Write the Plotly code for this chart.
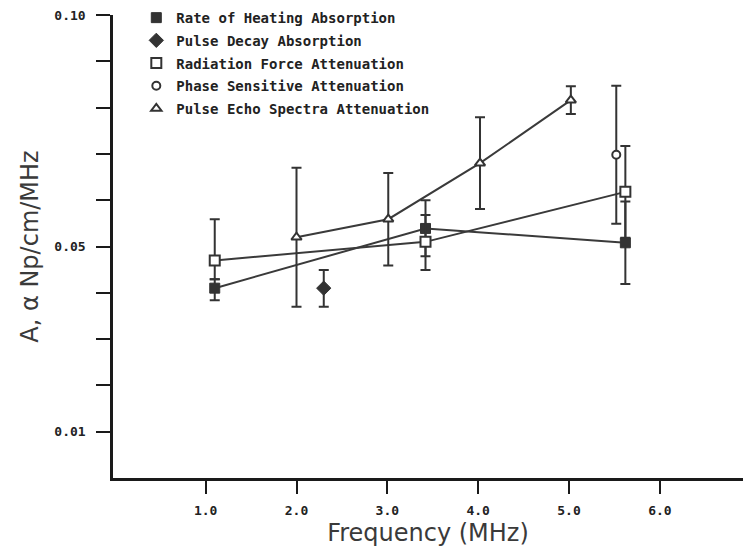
import plotly.graph_objects as go

# ---- data ----
rate_x = [1.10, 3.42, 5.62]
rate_y = [0.0410, 0.0539, 0.0508]
rate_err_plus = [0.0019, 0.0061, 0.0089]
rate_err_minus = [0.0026, 0.0060, 0.0089]

decay_x = [2.30]
decay_y = [0.0410]
decay_err_plus = [0.0039]
decay_err_minus = [0.0040]

rad_x = [1.10, 3.42, 5.62]
rad_y = [0.0470, 0.0510, 0.0618]
rad_err_plus = [0.0089, 0.0058, 0.0099]
rad_err_minus = [0.0041, 0.0061, 0.0099]

phase_x = [5.52]
phase_y = [0.0698]
phase_err = [0.0149]

echo_x = [2.00, 3.01, 4.02, 5.02]
echo_y = [0.0520, 0.0559, 0.0680, 0.0816]
echo_err = [0.0150, 0.0100, 0.0099, 0.0030]

x_tickvals = [1, 2, 3, 4, 5, 6]
x_ticktext = ["1.0", "2.0", "3.0", "4.0", "5.0", "6.0"]
y_tickvals = [0.01, 0.02, 0.03, 0.04, 0.05, 0.06, 0.07, 0.08, 0.09, 0.10]
y_ticktext = ["0.01", "", "", "", "0.05", "", "", "", "", "0.10"]

names = ["Rate of Heating Absorption", "Pulse Decay Absorption",
         "Radiation Force Attenuation", "Phase Sensitive Attenuation",
         "Pulse Echo Spectra Attenuation"]

INK = "#333333"
LINE = "#3a3a3a"

fig = go.Figure()

# connecting lines (no legend)
for xs, ys in [(rate_x, rate_y), (rad_x, rad_y), (echo_x, echo_y)]:
    fig.add_trace(go.Scatter(x=xs, y=ys, mode="lines",
                             line=dict(color=LINE, width=2),
                             showlegend=False, hoverinfo="skip"))

def eb(plus, minus=None):
    d = dict(type="data", array=plus, color=INK, thickness=2, width=5)
    if minus is not None:
        d["symmetric"] = False
        d["arrayminus"] = minus
    return d

fig.add_trace(go.Scatter(
    x=rate_x, y=rate_y, mode="markers", name=names[0], legendgroup="g1",
    marker=dict(symbol="square", size=10, color=INK, line=dict(color=INK, width=1)),
    error_y=eb(rate_err_plus, rate_err_minus)))
fig.add_trace(go.Scatter(
    x=decay_x, y=decay_y, mode="markers", name=names[1], legendgroup="g2",
    marker=dict(symbol="diamond", size=11, color=INK, line=dict(color=INK, width=1)),
    error_y=eb(decay_err_plus, decay_err_minus)))
fig.add_trace(go.Scatter(
    x=rad_x, y=rad_y, mode="markers", name=names[2], legendgroup="g3",
    marker=dict(symbol="square", size=10, color="white", line=dict(color=INK, width=2)),
    error_y=eb(rad_err_plus, rad_err_minus)))
fig.add_trace(go.Scatter(
    x=phase_x, y=phase_y, mode="markers", name=names[3], legendgroup="g4",
    marker=dict(symbol="circle", size=8, color="white", line=dict(color=INK, width=2)),
    error_y=eb(phase_err)))
fig.add_trace(go.Scatter(
    x=echo_x, y=echo_y, mode="markers", name=names[4], legendgroup="g5",
    marker=dict(symbol="triangle-up", size=9, color="white", line=dict(color=INK, width=2)),
    error_y=eb(echo_err)))

tickfont = dict(family="DejaVu Sans Mono", size=13, color="#222222", weight="bold")
titlefont = dict(family="DejaVu Sans", size=24, color="#3a3a3a")

fig.update_layout(
    width=743, height=550,
    margin=dict(l=113, r=0, t=15, b=72, pad=0, autoexpand=False),
    paper_bgcolor="white", plot_bgcolor="white",
    showlegend=True,
    legend=dict(x=0.037, y=1.028, xanchor="left", yanchor="top",
                bgcolor="rgba(0,0,0,0)", traceorder="grouped", tracegroupgap=1.5,
                font=dict(family="DejaVu Sans Mono", size=14, color="#222222", weight="bold")),
    xaxis=dict(range=[-0.02, 6.915], showgrid=False, zeroline=False, automargin=False,
               showline=True, linewidth=2.5, linecolor="#1a1a1a",
               ticks="outside", ticklen=13, tickwidth=2, tickcolor="#1a1a1a",
               tickvals=x_tickvals, ticktext=x_ticktext, tickfont=tickfont,
               ticklabelstandoff=6,
               title=dict(text="Frequency (MHz)", font=titlefont, standoff=7)),
    yaxis=dict(range=[0, 0.10], showgrid=False, zeroline=False, automargin=False,
               showline=True, linewidth=2.5, linecolor="#1a1a1a",
               ticks="outside", ticklen=14, tickwidth=2, tickcolor="#1a1a1a",
               tickvals=y_tickvals, ticktext=y_ticktext, tickfont=tickfont,
               ticklabelstandoff=8,
               title=dict(text="A, α Np/cm/MHz", font=titlefont, standoff=9)),
)

fig.write_html("out.html", config={"displayModeBar": False},
               post_script="document.body.style.margin='0px';")
